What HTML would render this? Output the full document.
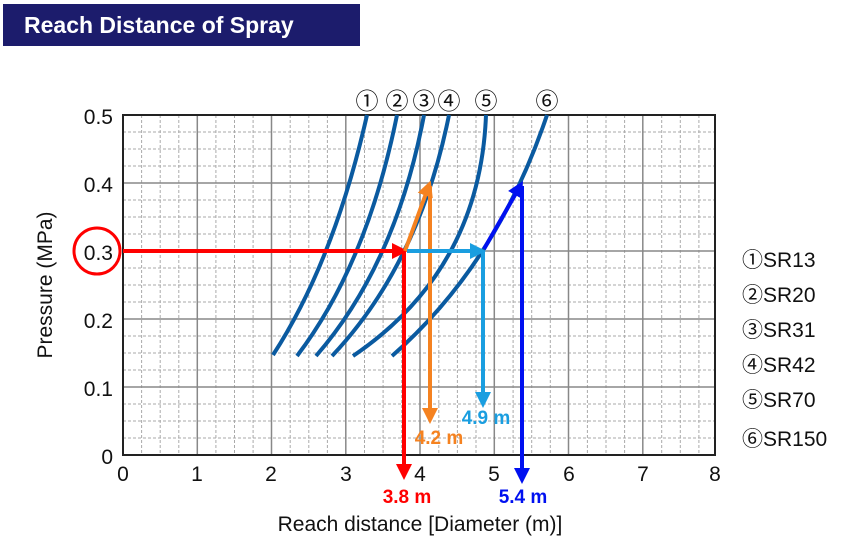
<!DOCTYPE html>
<html><head><meta charset="utf-8"><style>
body{margin:0;background:#fff;width:844px;height:541px;overflow:hidden}
svg{display:block}
text{font-family:"Liberation Sans","DejaVu Sans","Noto Sans CJK JP",sans-serif}
</style></head><body>
<svg width="844" height="541" viewBox="0 0 844 541">
<defs>
<marker id="ar" viewBox="0 0 10 10" refX="5" refY="5" markerWidth="4" markerHeight="4" orient="auto"><path d="M0,0 L10,5 L0,10 z" fill="#f00"/></marker>
<marker id="ao" viewBox="0 0 10 10" refX="5" refY="5" markerWidth="4" markerHeight="4" orient="auto"><path d="M0,0 L10,5 L0,10 z" fill="#f58220"/></marker>
<marker id="ac" viewBox="0 0 10 10" refX="5" refY="5" markerWidth="4" markerHeight="4" orient="auto"><path d="M0,0 L10,5 L0,10 z" fill="#1a9ee0"/></marker>
<marker id="ab" viewBox="0 0 10 10" refX="5" refY="5" markerWidth="4" markerHeight="4" orient="auto"><path d="M0,0 L10,5 L0,10 z" fill="#0010f0"/></marker>
</defs>
<rect x="3" y="4" width="357" height="42" fill="#1c1c6c"/>
<text x="24" y="33" font-size="23" font-weight="bold" fill="#fff">Reach Distance of Spray</text>
<g stroke="#aaa" stroke-width="1" stroke-dasharray="3,2">
<path d="M141.6,115V455M160.2,115V455M178.8,115V455M215.9,115V455M234.5,115V455M253.1,115V455M290.2,115V455M308.8,115V455M327.4,115V455M364.5,115V455M383.1,115V455M401.7,115V455M438.8,115V455M457.4,115V455M476,115V455M513.1,115V455M531.7,115V455M550.3,115V455M587.4,115V455M606,115V455M624.6,115V455M661.7,115V455M680.3,115V455M698.9,115V455"/>
<path d="M123,132H715M123,149H715M123,166H715M123,200H715M123,217H715M123,234H715M123,268H715M123,285H715M123,302H715M123,336H715M123,353H715M123,370H715M123,404H715M123,421H715M123,438H715"/>
</g>
<g stroke="#888" stroke-width="1.5">
<path d="M197.3,115V455M271.5,115V455M345.8,115V455M420,115V455M494.3,115V455M568.5,115V455M642.8,115V455"/>
<path d="M123,183H715M123,251H715M123,319H715M123,387H715"/>
</g>
<rect x="123" y="115" width="592" height="340" fill="none" stroke="#222" stroke-width="2"/>
<g fill="none" stroke="#0a5aa0" stroke-width="4">
<path d="M273,355 Q334,261 367,115"/>
<path d="M297,356 Q367,264 397,115"/>
<path d="M316,356 Q396,264 424,115"/>
<path d="M332,356 Q419,264 449,115"/>
<path d="M353,356 Q480,270 486,115"/>
<path d="M392,356 Q497,264 547,115"/>
</g>
<circle cx="97" cy="251" r="23" fill="none" stroke="#f00" stroke-width="3"/>
<g stroke-width="4" fill="none">
<line x1="123" y1="251" x2="400" y2="251" stroke="#f00" marker-end="url(#ar)"/>
<line x1="404" y1="251" x2="404" y2="472" stroke="#f00" marker-end="url(#ar)"/>
<line x1="405" y1="251" x2="428" y2="188" stroke="#f58220" marker-end="url(#ao)"/>
<line x1="430" y1="186" x2="430" y2="416" stroke="#f58220" marker-end="url(#ao)"/>
<line x1="407" y1="251" x2="478" y2="251" stroke="#1a9ee0" marker-end="url(#ac)"/>
<line x1="483" y1="251" x2="483" y2="400" stroke="#1a9ee0" marker-end="url(#ac)"/>
<line x1="484" y1="249" x2="519" y2="188" stroke="#0010f0" marker-end="url(#ab)"/>
<line x1="522" y1="186" x2="522" y2="476" stroke="#0010f0" marker-end="url(#ab)"/>
</g>
<g font-size="21" fill="#111" text-anchor="end">
<text x="113" y="124">0.5</text><text x="113" y="192">0.4</text><text x="113" y="260">0.3</text><text x="113" y="328">0.2</text><text x="113" y="396">0.1</text><text x="113" y="464">0</text>
</g>
<g font-size="21" fill="#111" text-anchor="middle">
<text x="123" y="481">0</text><text x="197" y="481">1</text><text x="271" y="481">2</text><text x="346" y="481">3</text><text x="420" y="481">4</text><text x="494" y="481">5</text><text x="569" y="481">6</text><text x="643" y="481">7</text><text x="715" y="481">8</text>
<text x="420" y="531">Reach distance [Diameter (m)]</text>
<text transform="translate(52,285) rotate(-90)">Pressure (MPa)</text>
</g>
<g font-size="23" fill="#111" text-anchor="middle">
<text x="367" y="109" style="font-family:'Noto Sans CJK JP',sans-serif">①</text>
<text x="397" y="109" style="font-family:'Noto Sans CJK JP',sans-serif">②</text>
<text x="424" y="109" style="font-family:'Noto Sans CJK JP',sans-serif">③</text>
<text x="449" y="109" style="font-family:'Noto Sans CJK JP',sans-serif">④</text>
<text x="486" y="109" style="font-family:'Noto Sans CJK JP',sans-serif">⑤</text>
<text x="547" y="109" style="font-family:'Noto Sans CJK JP',sans-serif">⑥</text>
</g>
<g font-size="21" fill="#111">
<text x="742" y="267"><tspan style="font-family:'Noto Sans CJK JP',sans-serif">①</tspan>SR13</text>
<text x="742" y="302"><tspan style="font-family:'Noto Sans CJK JP',sans-serif">②</tspan>SR20</text>
<text x="742" y="337"><tspan style="font-family:'Noto Sans CJK JP',sans-serif">③</tspan>SR31</text>
<text x="742" y="372"><tspan style="font-family:'Noto Sans CJK JP',sans-serif">④</tspan>SR42</text>
<text x="742" y="407"><tspan style="font-family:'Noto Sans CJK JP',sans-serif">⑤</tspan>SR70</text>
<text x="742" y="446"><tspan style="font-family:'Noto Sans CJK JP',sans-serif">⑥</tspan>SR150</text>
</g>
<g font-size="19" font-weight="bold" text-anchor="middle">
<text x="407" y="503" fill="#f00">3.8 m</text>
<text x="439" y="444" fill="#f58220">4.2 m</text>
<text x="486" y="424" fill="#1a9ee0">4.9 m</text>
<text x="523" y="503" fill="#0010f0">5.4 m</text>
</g>
</svg>
</body></html>
